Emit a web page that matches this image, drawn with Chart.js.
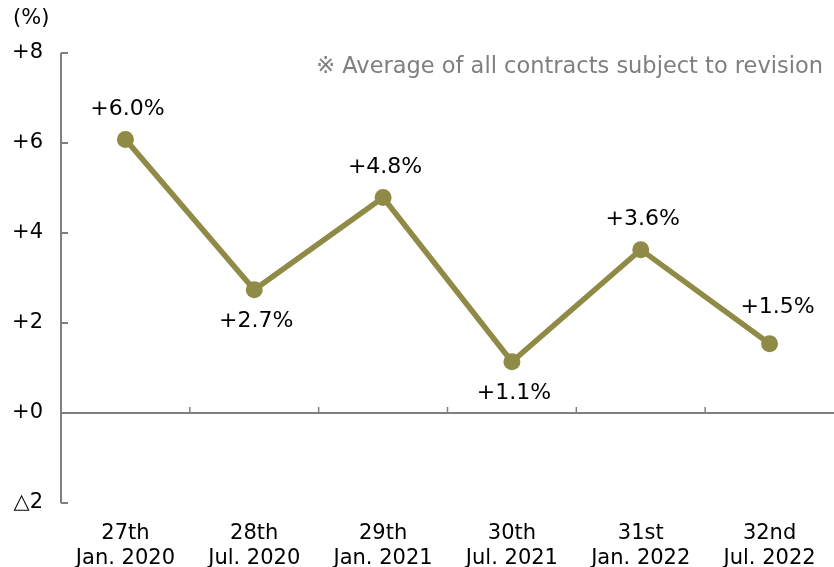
<!DOCTYPE html>
<html>
<head>
<meta charset="utf-8">
<script src="https://cdn.jsdelivr.net/npm/chart.js@4/dist/chart.umd.min.js"></script>
<style>
  html, body { margin: 0; padding: 0; background: #fff; }
  #wrap { width: 834px; height: 567px; }
</style>
</head>
<body>
<div id="wrap"><canvas id="grafico"></canvas></div>
<script>
// datos
const categorias = [
  ['27th', 'Jan. 2020'],
  ['28th', 'Jul. 2020'],
  ['29th', 'Jan. 2021'],
  ['30th', 'Jul. 2021'],
  ['31st', 'Jan. 2022'],
  ['32nd', 'Jul. 2022']
];
const valores = [6.08, 2.74, 4.79, 1.14, 3.63, 1.54];
const etiquetas = ['+6.0%', '+2.7%', '+4.8%', '+1.1%', '+3.6%', '+1.5%'];
const ejeY = [-2, 0, 2, 4, 6, 8];

const fuente = '"DejaVu Sans", Verdana, sans-serif';
const gris = '#7f7f7f';
const oliva = '#8f8a45';

// ejes dibujados a mano (linea del cero y marcas hacia dentro)
const ejesPlugin = {
  id: 'ejes',
  beforeDatasetsDraw(chart) {
    const ctx = chart.ctx;
    const area = chart.chartArea;
    const y = chart.scales.y;
    const x = chart.scales.x;
    ctx.save();
    ctx.strokeStyle = gris;
    ctx.lineWidth = 2;
    ctx.beginPath();
    ctx.moveTo(area.left, y.getPixelForValue(8));
    ctx.lineTo(area.left, y.getPixelForValue(-2));
    ejeY.forEach(v => {
      const py = y.getPixelForValue(v);
      ctx.moveTo(area.left, py);
      ctx.lineTo(area.left + 7, py);
    });
    const y0 = y.getPixelForValue(0);
    ctx.moveTo(area.left, y0);
    ctx.lineTo(area.right, y0);
    ctx.stroke();
    ctx.lineWidth = 1.5;
    ctx.beginPath();
    for (let i = 1; i < categorias.length; i++) {
      const px = (x.getPixelForValue(i - 1) + x.getPixelForValue(i)) / 2;
      ctx.moveTo(px, y0);
      ctx.lineTo(px, y0 - 6);
    }
    ctx.stroke();

    // titulo del eje y nota
    ctx.font = '21px ' + fuente;
    ctx.fillStyle = '#000';
    ctx.textAlign = 'left';
    ctx.textBaseline = 'middle';
    ctx.fillText('(%)', 13, 19);
    ctx.font = '22.5px ' + fuente;
    ctx.fillStyle = gris;
    ctx.textAlign = 'right';
    ctx.fillText('※ Average of all contracts subject to revision', 823, 67);
    ctx.restore();
  },
  afterDatasetsDraw(chart) {
    const ctx = chart.ctx;
    const meta = chart.getDatasetMeta(0);
    ctx.save();
    ctx.font = '22px ' + fuente;
    ctx.fillStyle = '#000';
    ctx.textAlign = 'center';
    ctx.textBaseline = 'middle';
    meta.data.forEach((pt, i) => {
      const prev = valores[i - 1], next = valores[i + 1];
      const abajo = prev !== undefined && next !== undefined && valores[i] < prev && valores[i] < next;
      const ultimo = i === valores.length - 1;
      ctx.fillText(etiquetas[i], pt.x + (ultimo ? 8 : 2), abajo ? pt.y + 32 : pt.y - (ultimo ? 36 : 30));
    });
    ctx.restore();
  }
};

new Chart(document.getElementById('grafico'), {
  type: 'line',
  data: {
    labels: categorias,
    datasets: [{
      data: valores,
      borderColor: oliva,
      backgroundColor: oliva,
      borderWidth: 5.5,
      pointRadius: 8.5,
      pointHoverRadius: 8.5,
      pointBackgroundColor: oliva,
      pointBorderWidth: 0,
      tension: 0
    }]
  },
  options: {
    responsive: true,
    maintainAspectRatio: false,
    animation: false,
    events: [],
    layout: { autoPadding: false, padding: { top: 53, right: 0, left: 0, bottom: 0 } },
    plugins: { legend: { display: false }, tooltip: { enabled: false } },
    scales: {
      x: {
        offset: true,
        grid: { display: false },
        border: { display: false },
        ticks: {
          color: '#000',
          font: { family: fuente, size: 21 },
          padding: 10,
          maxRotation: 0
        },
        afterFit(scale) {
          scale.height = 64;
          scale.paddingLeft = 0;
          scale.paddingRight = 0;
        }
      },
      y: {
        min: -2,
        max: 8,
        afterBuildTicks(scale) { scale.ticks = ejeY.map(v => ({ value: v })); },
        grid: { display: false },
        border: { display: false },
        ticks: {
          color: '#000',
          font: { family: fuente, size: 21 },
          padding: 10,
          callback: v => v > 0 ? '+' + v : (v === 0 ? '+0' : '△' + Math.abs(v))
        },
        afterFit(scale) { scale.width = 61; }
      }
    }
  },
  plugins: [ejesPlugin]
});
</script>
</body>
</html>
